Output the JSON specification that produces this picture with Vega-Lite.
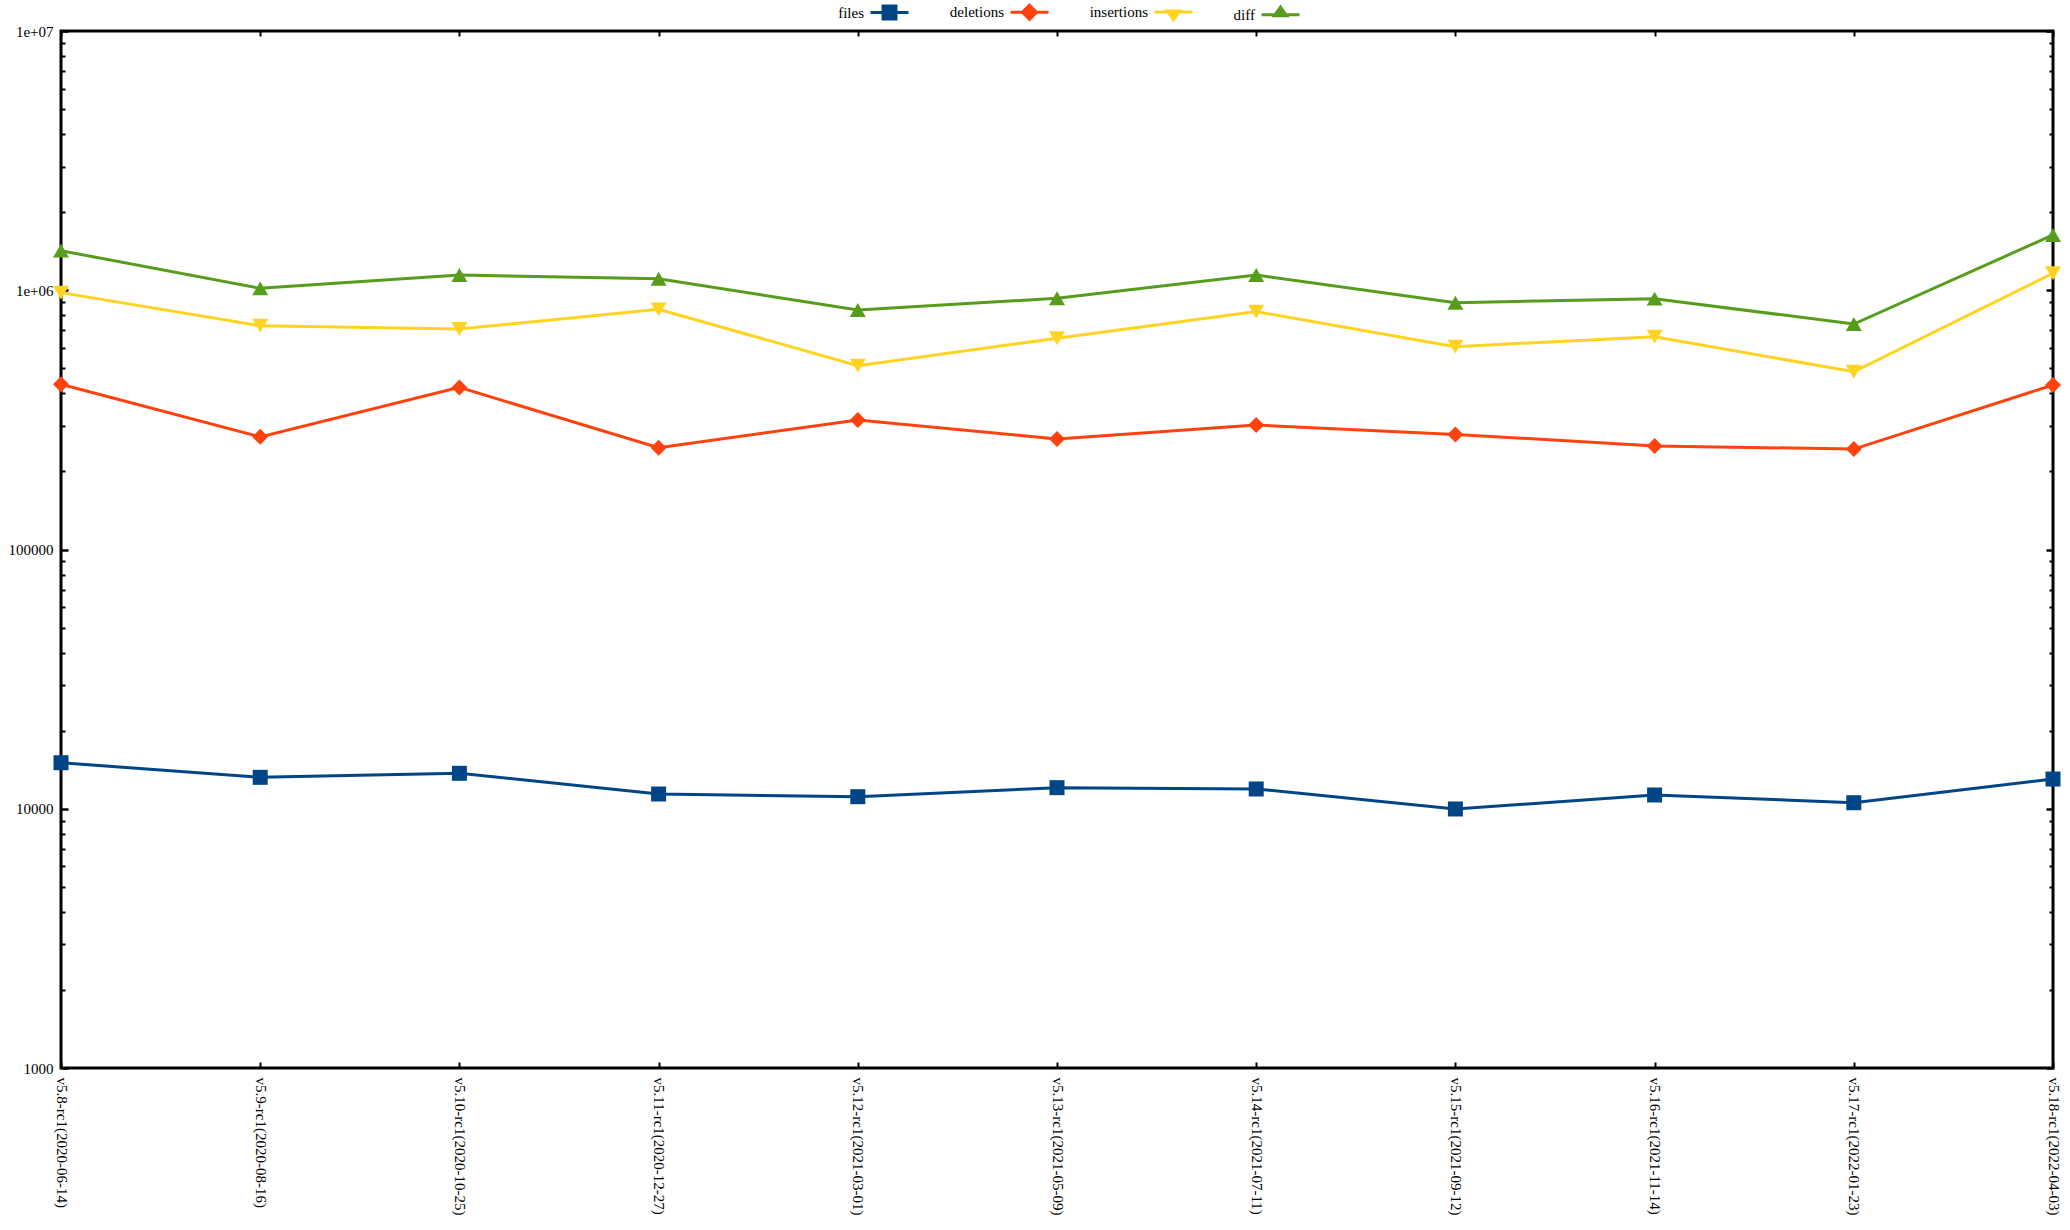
{
  "$schema": "https://vega.github.io/schema/vega-lite/v6.json",
  "width": 1992,
  "height": 1037,
  "autosize": {"type": "none"},
  "padding": {"left": 61, "top": 31, "right": 17, "bottom": 162},
  "background": "white",
  "config": {
    "view": {"stroke": "black", "strokeWidth": 3},
    "font": "Liberation Serif",
    "axis": {"grid": false, "domain": false, "title": null, "labelFont": "Liberation Serif", "labelFontSize": 15, "labelColor": "black", "tickColor": "black"}
  },
  "data": {
    "values": [
      {"version": "v5.8-rc1(2020-06-14)", "series": "files", "value": 15050},
      {"version": "v5.9-rc1(2020-08-16)", "series": "files", "value": 13220},
      {"version": "v5.10-rc1(2020-10-25)", "series": "files", "value": 13700},
      {"version": "v5.11-rc1(2020-12-27)", "series": "files", "value": 11400},
      {"version": "v5.12-rc1(2021-03-01)", "series": "files", "value": 11130},
      {"version": "v5.13-rc1(2021-05-09)", "series": "files", "value": 12060},
      {"version": "v5.14-rc1(2021-07-11)", "series": "files", "value": 11920},
      {"version": "v5.15-rc1(2021-09-12)", "series": "files", "value": 9980},
      {"version": "v5.16-rc1(2021-11-14)", "series": "files", "value": 11300},
      {"version": "v5.17-rc1(2022-01-23)", "series": "files", "value": 10550},
      {"version": "v5.18-rc1(2022-04-03)", "series": "files", "value": 13020},
      {"version": "v5.8-rc1(2020-06-14)", "series": "deletions", "value": 434000},
      {"version": "v5.9-rc1(2020-08-16)", "series": "deletions", "value": 272000},
      {"version": "v5.10-rc1(2020-10-25)", "series": "deletions", "value": 422000},
      {"version": "v5.11-rc1(2020-12-27)", "series": "deletions", "value": 247000},
      {"version": "v5.12-rc1(2021-03-01)", "series": "deletions", "value": 316000},
      {"version": "v5.13-rc1(2021-05-09)", "series": "deletions", "value": 267000},
      {"version": "v5.14-rc1(2021-07-11)", "series": "deletions", "value": 302000},
      {"version": "v5.15-rc1(2021-09-12)", "series": "deletions", "value": 278000},
      {"version": "v5.16-rc1(2021-11-14)", "series": "deletions", "value": 251000},
      {"version": "v5.17-rc1(2022-01-23)", "series": "deletions", "value": 244000},
      {"version": "v5.18-rc1(2022-04-03)", "series": "deletions", "value": 431000},
      {"version": "v5.8-rc1(2020-06-14)", "series": "insertions", "value": 979000},
      {"version": "v5.9-rc1(2020-08-16)", "series": "insertions", "value": 730000},
      {"version": "v5.10-rc1(2020-10-25)", "series": "insertions", "value": 709000},
      {"version": "v5.11-rc1(2020-12-27)", "series": "insertions", "value": 844000},
      {"version": "v5.12-rc1(2021-03-01)", "series": "insertions", "value": 512000},
      {"version": "v5.13-rc1(2021-05-09)", "series": "insertions", "value": 653000},
      {"version": "v5.14-rc1(2021-07-11)", "series": "insertions", "value": 827000},
      {"version": "v5.15-rc1(2021-09-12)", "series": "insertions", "value": 606000},
      {"version": "v5.16-rc1(2021-11-14)", "series": "insertions", "value": 662000},
      {"version": "v5.17-rc1(2022-01-23)", "series": "insertions", "value": 485000},
      {"version": "v5.18-rc1(2022-04-03)", "series": "insertions", "value": 1163000},
      {"version": "v5.8-rc1(2020-06-14)", "series": "diff", "value": 1421000},
      {"version": "v5.9-rc1(2020-08-16)", "series": "diff", "value": 1017000},
      {"version": "v5.10-rc1(2020-10-25)", "series": "diff", "value": 1145000},
      {"version": "v5.11-rc1(2020-12-27)", "series": "diff", "value": 1108000},
      {"version": "v5.12-rc1(2021-03-01)", "series": "diff", "value": 839000},
      {"version": "v5.13-rc1(2021-05-09)", "series": "diff", "value": 931000},
      {"version": "v5.14-rc1(2021-07-11)", "series": "diff", "value": 1145000},
      {"version": "v5.15-rc1(2021-09-12)", "series": "diff", "value": 895000},
      {"version": "v5.16-rc1(2021-11-14)", "series": "diff", "value": 928000},
      {"version": "v5.17-rc1(2022-01-23)", "series": "diff", "value": 741000},
      {"version": "v5.18-rc1(2022-04-03)", "series": "diff", "value": 1634000}
    ]
  },
  "layer": [
    {
      "mark": {"type": "line", "strokeWidth": 3},
      "encoding": {
        "x": {
          "field": "version", "type": "ordinal", "sort": null,
          "scale": {"type": "point", "padding": 0},
          "axis": {"orient": "bottom", "labelAngle": 90, "labelAlign": "left", "labelBaseline": "middle", "tickSize": -6, "tickWidth": 2, "labelPadding": 15, "labelOverlap": false, "labelLimit": 0}
        },
        "y": {
          "field": "value", "type": "quantitative",
          "scale": {"type": "log", "domain": [1000, 10000000], "nice": false},
          "axis": {
            "orient": "left",
            "values": [1000,2000,3000,4000,5000,6000,7000,8000,9000,10000,20000,30000,40000,50000,60000,70000,80000,90000,100000,200000,300000,400000,500000,600000,700000,800000,900000,1000000,2000000,3000000,4000000,5000000,6000000,7000000,8000000,9000000,10000000],
            "labelExpr": "datum.value == 10000000 ? '1e+07' : datum.value == 1000000 ? '1e+06' : (datum.value == 100000 || datum.value == 10000 || datum.value == 1000) ? '' + datum.value : ''",
            "labelOverlap": false,
            "labelBaseline": "middle",
            "labelPadding": 15,
            "tickSize": {"condition": {"test": "indexof([1000,10000,100000,1000000,10000000], datum.value) >= 0", "value": -7}, "value": -4},
            "tickWidth": {"condition": {"test": "indexof([1000,10000,100000,1000000,10000000], datum.value) >= 0", "value": 2.5}, "value": 2}
          }
        },
        "color": {
          "field": "series", "type": "nominal",
          "scale": {"domain": ["files", "deletions", "insertions", "diff"], "range": ["#004586", "#ff420e", "#ffd320", "#579d1c"]},
          "legend": {
            "orient": "none", "legendX": 808, "legendY": -40, "direction": "horizontal", "title": null, "padding": 0,
            "symbolSize": 1444, "symbolStrokeWidth": 3,
            "labelFont": "Liberation Serif", "labelFontSize": 15, "labelColor": "black",
            "labelAlign": "right", "labelOffset": -46, "columnPadding": 34,
            "encode": {
              "symbols": {
                "update": {
                  "shape": {"signal": "datum.value == 'files' ? 'M-1,0L1,0M-0.34,-0.34L0.34,-0.34L0.34,0.34L-0.34,0.34Z' : datum.value == 'deletions' ? 'M-1,0L1,0M0,-0.37L0.37,0L0,0.37L-0.37,0Z' : datum.value == 'insertions' ? 'M-1,0L1,0M-0.32,-0.05L0.32,-0.05L0,0.4Z' : 'M-1,0L1,0M-0.32,0.05L0.32,0.05L0,-0.4Z'"},
                  "fill": {"signal": "datum.value == 'files' ? '#004586' : datum.value == 'deletions' ? '#ff420e' : datum.value == 'insertions' ? '#ffd320' : '#579d1c'"},
                  "stroke": {"signal": "datum.value == 'files' ? '#004586' : datum.value == 'deletions' ? '#ff420e' : datum.value == 'insertions' ? '#ffd320' : '#579d1c'"},
                  "strokeWidth": {"value": 3},
                  "opacity": {"value": 1},
                  "fillOpacity": {"value": 1},
                  "strokeOpacity": {"value": 1}
                }
              }
            }
          }
        }
      }
    },
    {
      "encoding": {
        "x": {
          "field": "version", "type": "ordinal", "sort": null,
          "scale": {"type": "point", "padding": 0},
          "axis": {"orient": "top", "labels": false, "tickSize": -5, "tickWidth": 2}
        },
        "y": {
          "field": "value", "type": "quantitative",
          "scale": {"type": "log", "domain": [1000, 10000000], "nice": false},
          "axis": {
            "orient": "right", "labels": false,
            "values": [1000,2000,3000,4000,5000,6000,7000,8000,9000,10000,20000,30000,40000,50000,60000,70000,80000,90000,100000,200000,300000,400000,500000,600000,700000,800000,900000,1000000,2000000,3000000,4000000,5000000,6000000,7000000,8000000,9000000,10000000],
            "tickSize": {"condition": {"test": "indexof([1000,10000,100000,1000000,10000000], datum.value) >= 0", "value": -7}, "value": -4},
            "tickWidth": {"condition": {"test": "indexof([1000,10000,100000,1000000,10000000], datum.value) >= 0", "value": 2.5}, "value": 2}
          }
        },
        "color": {"field": "series", "type": "nominal", "legend": null}
      },
      "layer": [
        {"transform": [{"filter": "datum.series == 'files'"}], "mark": {"type": "point", "shape": "square", "size": 225, "filled": true, "opacity": 1, "strokeWidth": 0}},
        {"transform": [{"filter": "datum.series == 'deletions'"}], "mark": {"type": "point", "shape": "diamond", "size": 256, "filled": true, "opacity": 1, "strokeWidth": 0}},
        {"transform": [{"filter": "datum.series == 'insertions'"}], "mark": {"type": "point", "shape": "triangle-down", "size": 256, "filled": true, "opacity": 1, "strokeWidth": 0}},
        {"transform": [{"filter": "datum.series == 'diff'"}], "mark": {"type": "point", "shape": "triangle-up", "size": 256, "filled": true, "opacity": 1, "strokeWidth": 0}}
      ]
    }
  ],
  "resolve": {"axis": {"x": "independent", "y": "independent"}}
}
